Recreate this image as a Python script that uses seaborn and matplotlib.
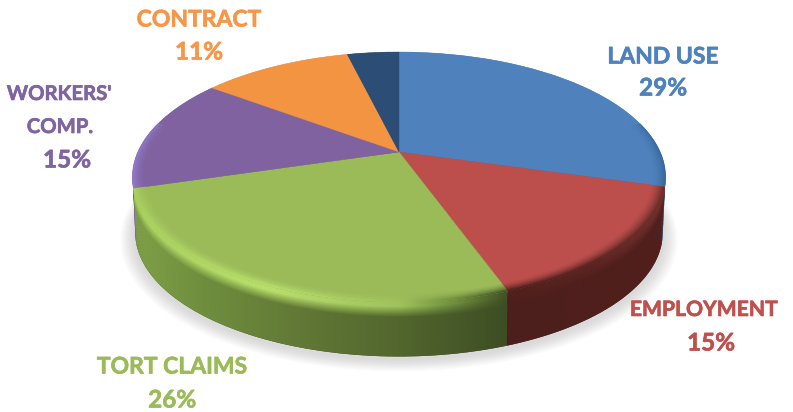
import numpy as np
import matplotlib
matplotlib.use("Agg")
import matplotlib.pyplot as plt
import matplotlib.patheffects as pe
import seaborn as sns
from matplotlib.colors import to_rgb
from matplotlib.path import Path
from matplotlib.transforms import Transform

# ---- data ----
names = ["LAND USE", "EMPLOYMENT", "TORT CLAIMS", "WORKERS'\nCOMP.", "CONTRACT", ""]
values = [29.4, 15.1, 25.9, 14.8, 11.0, 3.8]
top_colors = ["#4f81bd", "#bc4f4c", "#9bbb59", "#8062a0", "#f39443", "#2c4d75"]
text_colors = ["#4f81bd", "#c0504d", "#9bbb59", "#8064a2", "#f79646", "#2c4d75"]
label_xy = [(663, 57, 663, 88), (704, 310, 711, 343), (172, 367, 172, 400),
            (59, 110, 67, 160), (199, 20, 199, 52), None]
name_sizes = [16.5, 15.2, 16.5, 14.6, 16.5, 16.5]

# side colours as function of pixel x (stops)
side_stops = {
    0: ([600, 665], ["#2e5c8f", "#2e5c8f"]),
    1: ([505, 665], ["#4c1f1c", "#511f1c"]),
    2: ([130, 200, 300, 400, 510], ["#80a048", "#708f3e", "#617836", "#52662e", "#3d4d23"]),
    3: ([130, 220], ["#6d5590", "#6d5590"]),
    4: ([200, 350], ["#b06a2f", "#b06a2f"]),
    5: ([340, 400], ["#1f3a5c", "#1f3a5c"]),
}
rim_stops = {
    0: ([600, 665], ["#4f81bd", "#3a6a9f"]),
    1: ([505, 590, 665], ["#4f201d", "#5a2421", "#702f2c"]),
    2: ([130, 270, 400, 460, 510], ["#a9d05f", "#b8de6c", "#a0c25c", "#6c8a3c", "#3f4f24"]),
    3: ([130, 220], ["#9079c6", "#8062a0"]),
    4: ([200, 350], ["#f39443", "#f39443"]),
    5: ([340, 400], ["#2c4d75", "#2c4d75"]),
}

CX, CY, R, A, K = 399.0, 152.0, 261.0, 120.0, 0.2
DEPTH = 56.0


class Persp(Transform):
    """Tilted-disc projection of the unit pie onto the pixel-sized axes."""
    input_dims = 2
    output_dims = 2
    is_separable = False
    has_inverse = False

    def __init__(self, dy=0.0, s=1.0):
        super().__init__()
        self.dy, self.s = dy, s

    def transform_non_affine(self, xy):
        xy = np.asarray(xy, float)
        w = 1 + K * xy[:, 1]
        return np.column_stack((CX + R * self.s * xy[:, 0] / w,
                                CY - A * self.s * xy[:, 1] / w + self.dy))


sns.set_theme(style="white")
plt.rcParams["font.family"] = ["Lato", "DejaVu Sans"]

fig = plt.figure(figsize=(7.93, 4.12), dpi=100)
ax = fig.add_axes([0, 0, 1, 1])

fracs = np.cumsum([0] + values) / sum(values)
thetas = 90 - 360 * fracs


def arc(th1, th2, r, dy, s, n=90):
    t = np.radians(np.linspace(th1, th2, n))
    return Persp(dy, s).transform(np.column_stack((r * np.cos(t), r * np.sin(t))))


def stops_rgb(stops, xs):
    px, cols = stops
    c = np.array([to_rgb(v) for v in cols])
    return np.column_stack([np.interp(xs, px, c[:, j]) for j in range(3)])


def paint(poly, rgb, xs):
    im = ax.imshow(rgb[None, :, :], extent=(xs[0], xs[-1], 412, 0), aspect="auto",
                   interpolation="bilinear", zorder=3)
    im.set_clip_path(Path(np.vstack((poly, poly[:1]))), ax.transData)
    return im


# soft drop shadow
for i in range(14):
    f = i / 13
    shade, _ = ax.pie([1], radius=1.045 - 0.05 * f, startangle=90,
                      wedgeprops=dict(fc="#808080", alpha=0.018, ec="none", zorder=1))
    shade[0].set_transform(Persp(DEPTH + 5 - 2 * f, 1.0) + ax.transData)

# base of the side wall
base, _ = ax.pie(values, colors=[side_stops[i][1][-1] for i in range(6)], startangle=90,
                 counterclock=False, wedgeprops=dict(ec="none", zorder=2))
for w in base:
    w.set_transform(Persp(DEPTH, 0.99) + ax.transData)

xs = np.arange(125, 675, 5.0)


def side_profile(d):
    """blend weight rim -> side by depth in px"""
    return np.clip(d / 11.0, 0, 1)


# side wall bands, from the bottom up
depths = np.r_[np.arange(DEPTH, 11, -4.0), np.arange(11, -0.1, -1.0)]
for idx in [0, 3, 4, 5, 2, 1]:
    th1, th2 = thetas[idx], thetas[idx + 1]
    for d in depths:
        d2 = min(d + 5.0, DEPTH)
        s1, s2 = 1 - 0.01 * d / DEPTH, 1 - 0.01 * d2 / DEPTH
        poly = np.vstack((arc(th1, th2, 1, d, s1), arc(th2, th1, 1, d2, s2)))
        m = side_profile(d)
        shade = 0.82 + 0.18 * np.clip((DEPTH - d) / 4.0, 0, 1)
        rgb = (stops_rgb(rim_stops[idx], xs) * (1 - m) + stops_rgb(side_stops[idx], xs) * m) * shade
        paint(poly, np.clip(rgb, 0, 1), xs)

# top surface, drawn by the pie itself
top, _ = ax.pie(values, colors=top_colors, startangle=90, counterclock=False,
                wedgeprops=dict(ec="none", zorder=4))
for i, w in enumerate(top):
    w.set_ec(top_colors[i])
    w.set_lw(0.3)
    w.set_transform(Persp() + ax.transData)

# bevel on the front rim of the top surface
rs = np.linspace(0.955, 1.0, 8)
for idx in [0, 3, 2, 1]:
    t = np.linspace(thetas[idx], thetas[idx + 1], 240)
    keep = t[np.sin(np.radians(t)) < 0.25]
    if len(keep) < 2:
        continue
    th1, th2 = keep[0], keep[-1]
    base_c = np.array(to_rgb(top_colors[idx]))
    for j in range(len(rs) - 1):
        m = ((j + 1) / (len(rs) - 1)) ** 1.6
        poly = np.vstack((arc(th1, th2, rs[j], 0, 1), arc(th2, th1, rs[j + 1] + 0.002, 0, 1)))
        rgb = base_c * (1 - m) + stops_rgb(rim_stops[idx], xs) * m
        im = paint(poly, rgb, xs)
        im.set_zorder(5)

# labels
stroke = [pe.withStroke(linewidth=0.5, foreground="none")]
for name, val, pos, col, size in zip(names, values, label_xy, text_colors, name_sizes):
    if pos is None:
        continue
    kw = dict(color=col, fontweight="bold", ha="center", va="center", zorder=6,
              path_effects=[pe.withStroke(linewidth=0.45, foreground=col)])
    if "\n" in name:
        a, b = name.split("\n")
        ax.text(59, 94, a, fontsize=size, **kw)
        ax.text(60, 127, b, fontsize=size, **kw)
    else:
        ax.text(pos[0], pos[1], name, fontsize=size, **kw)
    ax.text(pos[2], pos[3], f"{val:.0f}%", fontsize=17.5, **kw)

ax.set_aspect("auto")
ax.set_xlim(0, 793)
ax.set_ylim(412, 0)
ax.axis("off")
fig.savefig("out.png", dpi=100, facecolor="white")
